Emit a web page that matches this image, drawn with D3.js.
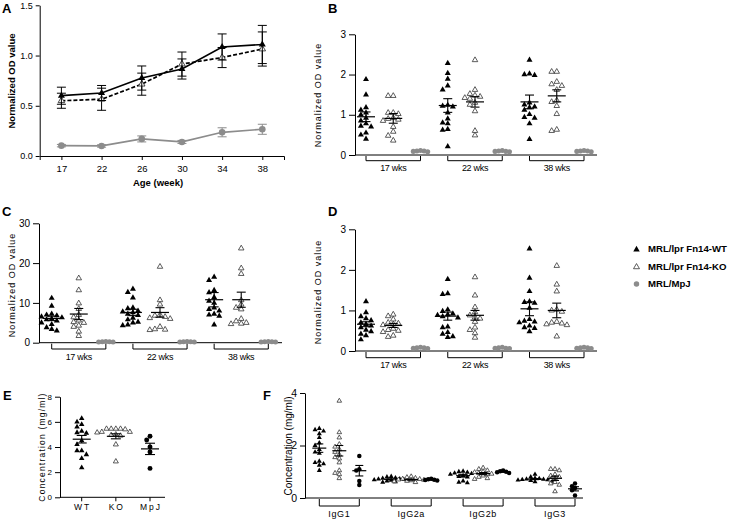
<!DOCTYPE html>
<html><head><meta charset="utf-8">
<script src="https://cdn.jsdelivr.net/npm/d3@7"></script>
<style>body{margin:0;background:#fff}svg{display:block;font-family:"Liberation Sans",Arial,sans-serif}</style>
</head><body><svg id="c" width="731" height="520"></svg>
<script>
// ---------- Panel A ----------
const ageWeeks = ["17","22","26","30","34","38"];
const aWT = [0.60,0.627,0.776,0.866,1.085,1.11];
const aWTerr = [0.085,0.075,0.12,0.10,0.13,0.19];
const aKO = [0.55,0.565,0.715,0.915,0.98,1.065];
const aKOerr = [0.075,0.11,0.11,0.12,0.10,0.17];
const aMpJ = [0.103,0.10,0.17,0.14,0.236,0.266];
const aMpJerr = [0.012,0.012,0.03,0.015,0.045,0.05];

// ---------- Panels B, C, D ----------
const weekGroups = ["17 wks","22 wks","38 wks"];
const bWT = [[1.88,1.50,1.18,1.12,1.05,1.00,0.92,0.85,0.78,0.72,0.70,0.55,0.50,0.40],
             [2.28,2.03,1.89,1.72,1.62,1.24,1.22,1.20,1.05,0.90,0.80,0.78,0.64,0.62,0.21],
             [2.36,2.02,2.00,1.98,1.30,1.25,1.20,1.18,1.12,1.01,0.94,0.92,0.78,0.39]];
const bKO = [[1.47,1.47,1.05,1.05,1.02,0.92,0.90,0.88,0.85,0.70,0.58,0.48,0.36],
             [2.36,1.62,1.52,1.48,1.45,1.42,1.40,1.30,1.25,1.09,0.60,0.49],
             [2.07,2.07,1.82,1.76,1.72,1.62,1.36,1.32,1.22,1.02,0.63,0.60]];
const bMpJ = [[0.10,0.09,0.11,0.08,0.10],[0.09,0.10,0.08,0.11,0.09],[0.10,0.11,0.09,0.10,0.08]];
const bWTmean = [0.95,1.23,1.32], bWTsem = [0.12,0.17,0.17];
const bKOmean = [0.91,1.32,1.47], bKOsem = [0.12,0.13,0.15];
const bMpJmean = [0.10,0.10,0.10], bMpJsem = [0.005,0.005,0.005];

const cWT = [[11.2,9.2,7.2,7.0,6.8,6.5,6.3,6.0,5.8,5.5,5.0,4.6,3.8,3.4,3.0],
             [13.5,12.7,11.3,8.8,8.6,8.0,7.8,7.6,7.2,6.9,6.2,5.8,5.2,5.0,4.5,4.3],
             [16.5,15.7,13.2,12.6,11.4,10.5,10.0,8.8,8.4,8.0,7.2,7.0,6.7,4.5]];
const cKO = [[16.2,13.2,9.9,8.5,7.0,6.4,5.6,5.2,5.0,4.3,4.0,2.8,1.7],
             [19.1,10.7,9.6,7.0,6.8,6.5,6.2,6.0,4.0,3.4,3.3,3.2],
             [23.7,18.7,17.3,10.7,9.6,8.8,8.4,6.0,5.4,5.0,4.8,4.7]];
const cMpJ = [[0.25,0.2,0.3,0.2,0.25],[0.25,0.3,0.2,0.25,0.2],[0.2,0.25,0.3,0.25,0.2]];
const cWTmean = [6.1,7.6,10.8], cWTsem = [0.55,0.8,1.8];
const cKOmean = [7.2,7.6,10.8], cKOsem = [1.4,1.2,1.9];
const cMpJmean = [0.24,0.24,0.24], cMpJsem = [0.02,0.02,0.02];

const dWT = [[1.22,0.95,0.85,0.80,0.75,0.70,0.66,0.62,0.58,0.52,0.48,0.42,0.38,0.28],
             [1.77,1.42,1.40,1.02,0.98,0.92,0.90,0.88,0.85,0.82,0.60,0.58,0.46,0.42,0.36,0.34],
             [2.52,1.80,1.47,1.22,1.20,1.18,1.06,0.78,0.74,0.72,0.70,0.62,0.58,0.56,0.48]];
const dKO = [[0.90,0.86,0.78,0.70,0.68,0.66,0.64,0.55,0.52,0.50,0.47,0.38,0.35],
             [1.82,1.37,1.08,0.96,0.88,0.83,0.80,0.72,0.58,0.52,0.44,0.33],
             [2.10,1.64,1.47,1.02,1.00,0.97,0.72,0.70,0.68,0.66,0.64,0.36]];
const dMpJ = [[0.08,0.07,0.09,0.06,0.08],[0.07,0.08,0.06,0.09,0.07],[0.08,0.09,0.07,0.08,0.06]];
const dWTmean = [0.66,0.86,1.04], dWTsem = [0.06,0.10,0.17];
const dKOmean = [0.63,0.88,1.00], dKOsem = [0.05,0.12,0.18];
const dMpJmean = [0.075,0.075,0.075], dMpJsem = [0.005,0.005,0.005];

// ---------- Panel E ----------
const eGroups = ["WT","KO","MpJ"];
const eWT = [6.28,6.0,5.8,5.6,5.25,5.15,5.1,4.5,4.2,3.7,3.7,3.4,3.1,2.35];
const eKO = [5.45,5.45,5.45,5.45,5.4,5.2,5.2,5.15,5.0,4.95,4.9,4.2,2.85];
const eMpJ = [4.85,4.55,4.0,3.6,2.3];
const eMean = [4.62,4.85,3.85], eSem = [0.3,0.2,0.45];

// ---------- Panel F ----------
const igGroups = ["IgG1","IgG2a","IgG2b","IgG3"];
const fWT = [[2.65,2.6,2.55,2.45,2.3,2.1,2.0,1.85,1.75,1.7,1.4,1.35,1.3,1.25,1.05],
             [0.82,0.80,0.77,0.75,0.73,0.72,0.70,0.69,0.67,0.65,0.62,0.60],
             [1.02,1.0,0.98,0.95,0.93,0.90,0.85,0.82,0.80,0.65,0.60,0.58],
             [0.90,0.80,0.76,0.74,0.72,0.71,0.70,0.69,0.68,0.66,0.64,0.62]];
const fKO = [[3.7,2.5,2.3,2.05,1.95,1.85,1.75,1.65,1.55,1.5,1.35,1.05,0.95,0.9,0.75],
             [0.82,0.79,0.76,0.73,0.72,0.70,0.69,0.67,0.65,0.63,0.60],
             [1.15,1.10,1.05,1.00,0.98,0.95,0.92,0.90,0.85,0.80,0.75,0.72],
             [1.10,1.10,1.05,0.90,0.85,0.80,0.75,0.70,0.60,0.55,0.50,0.25]];
const fMpJ = [[1.6,1.1,1.05,0.65,0.5],[0.73,0.71,0.70,0.69,0.67],[1.05,1.02,1.0,0.98,0.95],[0.55,0.45,0.38,0.30,0.10]];
const fWTmean = [1.9,0.71,0.85,0.72], fWTsem = [0.16,0.02,0.05,0.02];
const fKOmean = [1.8,0.70,0.93,0.75], fKOsem = [0.2,0.02,0.04,0.08];
const fMpJmean = [1.04,0.70,1.0,0.35], fMpJsem = [0.2,0.01,0.02,0.08];

const legendLabels = ["MRL/lpr Fn14-WT","MRL/lpr Fn14-KO","MRL/MpJ"];

// ================= drawing =================
const svg = d3.select("#c");
const GREY = "#8c8c8c";
const tri = s => d3.symbol(d3.symbolTriangle, Math.sqrt(3)/4*s*s)();
const circ = r => d3.symbol(d3.symbolCircle, Math.PI*r*r)();

function styleAxis(g, fs){
  g.selectAll("path,line").attr("stroke","#000").attr("stroke-width",1);
  g.selectAll("text").attr("font-size",fs).attr("fill","#000").attr("font-family","'Liberation Sans',Arial,sans-serif");
}
function panelLabel(t,x,y){
  svg.append("text").attr("x",x).attr("y",y).attr("font-size",13).attr("font-weight","bold").text(t);
}
function vLabel(t,cx,cy,fs,opts={}){
  svg.append("text").attr("transform",`translate(${cx},${cy}) rotate(-90)`)
    .attr("text-anchor","middle").attr("dy","0.35em").attr("font-size",fs)
    .attr("font-weight",opts.bold?"bold":"normal").attr("letter-spacing",opts.ls||0).text(t);
}
function marker(g, kind, x, y, s){
  if(kind==="wt") g.append("path").attr("d",tri(s)).attr("transform",`translate(${x},${y})`).attr("fill","#000");
  else if(kind==="ko") g.append("path").attr("d",tri(s*0.92)).attr("transform",`translate(${x},${y})`).attr("fill","#fff").attr("stroke","#333").attr("stroke-width",0.8);
  else if(kind==="mpj") g.append("path").attr("d",circ(s*0.42)).attr("transform",`translate(${x},${y})`).attr("fill",GREY);
  else g.append("path").attr("d",circ(s*0.45)).attr("transform",`translate(${x},${y})`).attr("fill","#000");
}
function swarm(vals, y, dx, dy){
  const pts = vals.map(v=>({v, py:y(v), off:0}));
  const order = pts.slice().sort((a,b)=>a.py-b.py);
  const placed = [];
  order.forEach(p=>{
    for(let k=0;k<80;k++){
      const off = (k===0?0:(k%2?-1:1)*Math.ceil(k/2))*dx*0.5;
      if(placed.every(q=>Math.abs(q.off-off)>=dx-0.01 || Math.abs(q.py-p.py)>=dy)){p.off=off;break;}
    }
    placed.push(p);
  });
  return pts;
}

// ---------- Panel A ----------
(function(){
  const x = d3.scalePoint().domain(ageWeeks).range([39.7,284]).padding(0.54);
  const y = d3.scaleLinear().domain([0,1.5]).range([156,5.3]);
  const g = svg.append("g");
  const ya = g.append("g").attr("transform","translate(39.7,0)")
    .call(d3.axisLeft(y).tickValues([0,0.5,1,1.5]).tickFormat(d3.format(".1f")).tickSize(4).tickSizeOuter(0));
  styleAxis(ya,9);
  const xa = g.append("g").attr("transform","translate(0,156)").call(d3.axisBottom(x).tickSize(4).tickSizeOuter(4));
  styleAxis(xa,9.5); xa.selectAll("text").attr("dy","0.9em");
  const series = [
    {m:aMpJ,e:aMpJerr,color:GREY,kind:"mpj",dash:null},
    {m:aKO,e:aKOerr,color:"#000",kind:"ko",dash:"4,2"},
    {m:aWT,e:aWTerr,color:"#000",kind:"wt",dash:null}];
  series.forEach(s=>{
    const line = d3.line().x((d,i)=>x(ageWeeks[i])).y(d=>y(d));
    s.m.forEach((v,i)=>{
      const cx = x(ageWeeks[i]);
      g.append("line").attr("x1",cx).attr("x2",cx).attr("y1",y(v-s.e[i])).attr("y2",y(v+s.e[i])).attr("stroke",s.color).attr("stroke-width",1);
      [v-s.e[i],v+s.e[i]].forEach(w=>g.append("line").attr("x1",cx-4.5).attr("x2",cx+4.5).attr("y1",y(w)).attr("y2",y(w)).attr("stroke",s.color).attr("stroke-width",1));
    });
    g.append("path").attr("d",line(s.m)).attr("fill","none").attr("stroke",s.color).attr("stroke-width",1.7).attr("stroke-dasharray",s.dash);
    s.m.forEach((v,i)=>{
      const cx = x(ageWeeks[i]);
      if(s.kind==="mpj") g.append("path").attr("d",circ(3.3)).attr("transform",`translate(${cx},${y(v)})`).attr("fill",GREY);
      else if(s.kind==="ko") g.append("path").attr("d",tri(6.5)).attr("transform",`translate(${cx},${y(v)})`).attr("fill","#fff").attr("stroke","#333").attr("stroke-width",0.9);
      else g.append("path").attr("d",tri(7)).attr("transform",`translate(${cx},${y(v)})`).attr("fill","#000");
    });
  });
  svg.append("text").attr("x",158).attr("y",186).attr("text-anchor","middle").attr("font-size",9.5).attr("font-weight","bold").text("Age (week)");
  vLabel("Normalized OD value",12,81,9.5,{bold:true});
  panelLabel("A",2,13);
})();

// ---------- generic dot panel ----------
function dotPanel(o){
  const y = d3.scaleLinear().domain(o.yDomain).range(o.yRange);
  const g = svg.append("g");
  const ya = g.append("g").attr("transform",`translate(${o.axisX},0)`)
    .call(d3.axisLeft(y).tickValues(o.ticks).tickFormat(d3.format("d")).tickSize(o.tickSize||6).tickSizeOuter(0));
  styleAxis(ya,o.tickFont||10);
  const y0 = y(0);
  g.append("line").attr("x1",o.axisX).attr("x2",o.axisEnd).attr("y1",y0).attr("y2",y0).attr("stroke","#000");
  const kinds = ["wt","ko",o.mpjKind||"mpj"];
  o.groups.forEach((grp,gi)=>{
    if(o.bracket){
      const x1 = o.colX(gi,0), x2 = o.colX(gi,2);
      g.append("path").attr("d",`M${x1},${y0+1}V${o.bracketY}H${x2}V${y0+1}`).attr("fill","none").attr("stroke","#000");
      g.append("text").attr("x",(x1+x2)/2).attr("y",o.labelY).attr("text-anchor","middle")
        .attr("font-size",o.labelFont||9).attr("letter-spacing",o.labelLs||0).text(grp);
    }
    o.series.forEach((ser,si)=>{
      const cx = o.colX(gi,si);
      const isTri = kinds[si]==="wt"||kinds[si]==="ko";
      const pts = swarm(ser.data[gi], y, isTri?o.mk*0.85:o.mk*0.6, o.mk*0.7);
      pts.forEach(p=>marker(g,kinds[si],cx+p.off,p.py,o.mk));
      const m = ser.mean[gi], s = ser.sem[gi];
      const col = kinds[si]==="mpj"?GREY:"#000";
      g.append("line").attr("x1",cx-o.meanW).attr("x2",cx+o.meanW).attr("y1",y(m)).attr("y2",y(m)).attr("stroke",col).attr("stroke-width",1.2);
      g.append("line").attr("x1",cx).attr("x2",cx).attr("y1",y(m-s)).attr("y2",y(m+s)).attr("stroke",col).attr("stroke-width",1.1);
      [m-s,m+s].forEach(w=>g.append("line").attr("x1",cx-o.capW).attr("x2",cx+o.capW).attr("y1",y(w)).attr("y2",y(w)).attr("stroke",col).attr("stroke-width",1.1));
    });
  });
  return {g,y};
}
function cols9(range){
  const x = d3.scalePoint().domain(d3.range(9)).range(range);
  return (gi,si)=>x(gi*3+si);
}

// ---------- B ----------
dotPanel({yDomain:[0,3],yRange:[155,34.3],axisX:355,axisEnd:597,ticks:[0,1,2,3],
  colX:cols9([366,584]),groups:weekGroups,bracket:true,bracketY:160.7,labelY:171,labelLs:-0.3,
  series:[{data:bWT,mean:bWTmean,sem:bWTsem},{data:bKO,mean:bKOmean,sem:bKOsem},{data:bMpJ,mean:bMpJmean,sem:bMpJsem}],
  mk:6,meanW:9,capW:4.5});
vLabel("Normalized OD value",318,95,9,{ls:1});
panelLabel("B",328,13);

// ---------- C ----------
dotPanel({yDomain:[0,30],yRange:[342.7,223.3],axisX:39,axisEnd:282,ticks:[0,10,20,30],
  colX:cols9([51.7,268.3]),groups:weekGroups,bracket:true,bracketY:349,labelY:359.5,labelLs:-0.3,
  series:[{data:cWT,mean:cWTmean,sem:cWTsem},{data:cKO,mean:cKOmean,sem:cKOsem},{data:cMpJ,mean:cMpJmean,sem:cMpJsem}],
  mk:6,meanW:9,capW:4.5});
vLabel("Normalized OD value",12,285,9,{ls:1});
panelLabel("C",2,216);

// ---------- D ----------
dotPanel({yDomain:[0,3],yRange:[351,229.3],axisX:355,axisEnd:597,ticks:[0,1,2,3],
  colX:cols9([366,584]),groups:weekGroups,bracket:true,bracketY:357.7,labelY:368,labelLs:-0.3,
  series:[{data:dWT,mean:dWTmean,sem:dWTsem},{data:dKO,mean:dKOmean,sem:dKOsem},{data:dMpJ,mean:dMpJmean,sem:dMpJsem}],
  mk:6,meanW:9,capW:4.5});
vLabel("Normalized OD value",318,292,9,{ls:1});
panelLabel("D",328,216);

// ---------- Legend ----------
(function(){
  const ly = d3.scalePoint().domain(legendLabels).range([249,284]);
  const kinds = ["wt","ko","mpj"];
  legendLabels.forEach((t,i)=>{
    const yy = ly(t);
    marker(svg,kinds[i],636.5,yy+(i<2?0.5:0),6.5);
    svg.append("text").attr("x",648).attr("y",yy).attr("dy","0.35em").attr("font-size",9.6).attr("font-weight","bold").text(t);
  });
})();

// ---------- E ----------
(function(){
  const ex = d3.scalePoint().domain(eGroups).range([81.7,150]);
  const r = dotPanel({yDomain:[0,8],yRange:[497.3,396.7],axisX:60,axisEnd:165,ticks:[0,2,4,6,8],tickSize:5,tickFont:8,
    colX:(gi,si)=>ex(eGroups[si]),groups:["all"],bracket:false,mpjKind:"blk",
    series:[{data:[eWT],mean:[eMean[0]],sem:[eSem[0]]},{data:[eKO],mean:[eMean[1]],sem:[eSem[1]]},{data:[eMpJ],mean:[eMean[2]],sem:[eSem[2]]}],
    mk:5.5,meanW:9,capW:5});
  const y0 = r.y(0);
  eGroups.forEach(gname=>{
    const cx = ex(gname);
    svg.append("line").attr("x1",cx).attr("x2",cx).attr("y1",y0).attr("y2",y0+4).attr("stroke","#000");
    svg.append("text").attr("x",cx+1).attr("y",y0+13).attr("text-anchor","middle").attr("font-size",8.5).attr("letter-spacing",2).text(gname);
  });
  vLabel("Concentration (mg/ml)",42.5,447,8.5,{ls:1.2});
  panelLabel("E",3,400);
})();

// ---------- F ----------
(function(){
  const gx = d3.scalePoint().domain(igGroups).range([339.3,555]);
  const inner = d3.scalePoint().domain([0,1,2]).range([-20,20]);
  dotPanel({yDomain:[0,4],yRange:[498,393],axisX:305,axisEnd:583,ticks:[0,2,4],tickSize:5,tickFont:10.5,
    colX:(gi,si)=>gx(igGroups[gi])+inner(si),groups:igGroups,bracket:true,bracketY:506,labelY:517,labelFont:9,labelLs:0.6,mpjKind:"blk",
    series:[{data:fWT,mean:fWTmean,sem:fWTsem},{data:fKO,mean:fKOmean,sem:fKOsem},{data:fMpJ,mean:fMpJmean,sem:fMpJsem}],
    mk:5,meanW:7,capW:4});
  vLabel("Concentration (mg/ml)",288,446,10);
  panelLabel("F",263,400);
})();
</script></body></html>
